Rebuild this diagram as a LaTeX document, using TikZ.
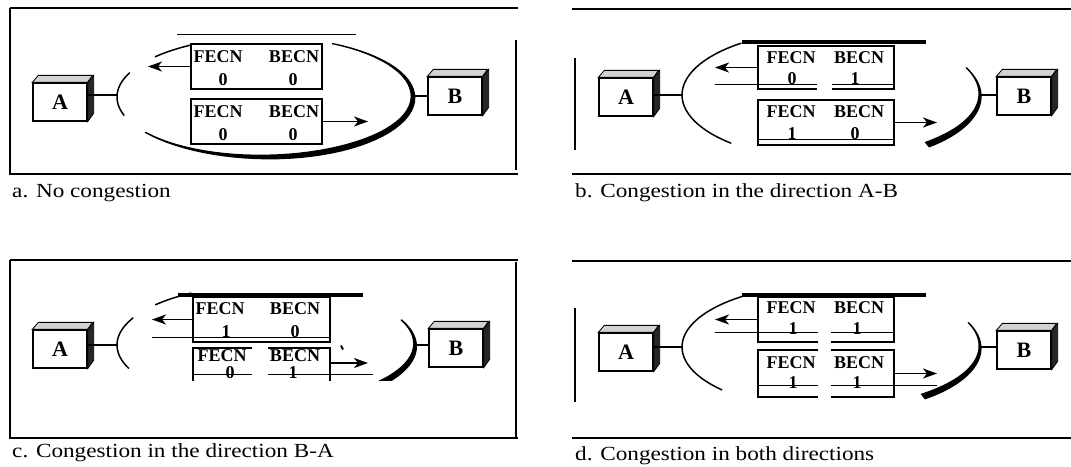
\documentclass[tikz,border=0pt]{standalone}
\usepackage{fontspec}
\setmainfont{Liberation Serif}
\newfontfamily\capfont[FakeStretch=1.16]{Liberation Serif}
\newfontfamily\boxfont{Liberation Serif}
\usetikzlibrary{arrows.meta}

\tikzset{
  rule/.style={line width=1.4pt},
  caption/.style={anchor=base west, inner sep=0pt, font=\capfont\fontsize{20}{24}\selectfont},
  lbl/.style={anchor=base, inner sep=0pt, font=\boxfont\bfseries\fontsize{18}{20}\selectfont},
  fecnbox/.style={draw, line width=1.4pt, fill=white, minimum width=#1, minimum height=45pt, inner sep=0pt},
  areabox/.style={fill=white, draw, line width=1.4pt, minimum width=136pt, minimum height=#1, inner sep=0pt},
  edge/.style={line width=1.4pt},
  digitline/.style={line width=0.9pt},
  arr/.style={line width=1.8pt, -{Stealth[length=14pt,width=10pt,inset=4pt]}},
  thinarc/.style={line width=1.5pt},
  station/.style={draw, line width=1.3pt, fill=white, minimum width=54pt, minimum height=38pt, inner sep=0pt, font=\bfseries\fontsize{22}{24}\selectfont},
  link/.style={line width=1.5pt},
  topbar/.style={line width=4pt},
  cut/.style={fill=white, draw=none},
}

\newcommand\stationcube[3]{%
  \node[station] (#1) at (#2) {#3};
  \filldraw[fill=gray!35, line width=0.8pt] (#1.north west) -- ++(6,-7) -- ++(54,0) -- (#1.north east) -- cycle;
  \filldraw[fill=black!85, line width=0.8pt] (#1.north east) -- ++(6,-7) -- ++(0,38) -- (#1.south east) -- cycle;
}
\newcommand\ellarc[6]{%
  \draw[thinarc] plot[domain=#5:#6, samples=30, variable=\t] ({#1+#3*cos(\t)}, {#2+#4*sin(\t)});}
\newcommand\ellband[9]{%
  \fill plot[domain=#5:#6, samples=50, variable=\t]
    ({#1+(#3+0.7+(#9/2-0.7)*pow(cos(#8*(\t-#7)),2))*cos(\t)},
     {#2+(#4+0.7+(#9/2-0.7)*pow(cos(#8*(\t-#7)),2))*sin(\t)})
   -- plot[domain=#5:#6, samples=50, variable=\t]
    ({#1+(#3-0.7-(#9/2-0.7)*pow(cos(#8*(#5+#6-\t-#7)),2))*cos(#5+#6-\t)},
     {#2+(#4-0.7-(#9/2-0.7)*pow(cos(#8*(#5+#6-\t-#7)),2))*sin(#5+#6-\t)})
   -- cycle;}

\begin{document}
\begin{tikzpicture}[x=1pt,y=-1pt]
\useasboundingbox (0,0) rectangle (1071,466);
\fill[white] (0,0) rectangle (1071,466);

% ================= panel a =================
\draw[rule] (10,8) -- (518,8);
\draw[rule] (10,8) -- (10,174) -- (518,174);
\draw[rule] (516,40) -- (516,170);
\node[caption] (capa) at (12,197) {a. No congestion};
\draw[line width=0.9pt] (177,34) -- (356,34);
\ellarc{265}{97}{148}{60}{162}{204}
\ellarc{265}{97}{148}{60}{222}{242}
\ellband{265}{97}{148}{60}{-63}{144}{45}{0.8}{6.5}
\node[fecnbox=131pt] (a-up) at (256.5,66.5) {};
\node[fecnbox=131pt] (a-lo) at (256.5,121.5) {};
\node[lbl] (a-up-f) at (218,62) {FECN};
\node[lbl] (a-up-b) at (294,62) {BECN};
\node[lbl] (a-up-fv) at (223,85) {0};
\node[lbl] (a-up-bv) at (293,85) {0};
\node[lbl] (a-lo-f) at (218,117) {FECN};
\node[lbl] (a-lo-b) at (294,117) {BECN};
\node[lbl] (a-lo-fv) at (223,140) {0};
\node[lbl] (a-lo-bv) at (293,140) {0};
\coordinate (a-tipL) at (148,66.5);
\coordinate (a-tipR) at (368,121.5);
\draw[arr] (a-up.west) -- (a-tipL);
\draw[arr] (a-lo.east) -- (a-tipR);
\stationcube{a-A}{60,102}{A}
\stationcube{a-B}{455,96}{B}
\coordinate (a-eL) at (117,95);
\coordinate (a-eR) at (413,96);
\draw[link] (a-A.east |- a-eL) -- (a-eL);
\draw[link] (a-eR) -- (a-B.west |- a-eR);

% ================= panel b =================
\draw[rule] (572,9) -- (1071,9);
\draw[rule] (572,174) -- (1071,174);
\draw[rule] (575,58) -- (575,150);
\node[caption] (capb) at (575,197) {b. Congestion in the direction A-B};
\draw[topbar] (742,42) -- (926,42);
\ellarc{831}{95}{149}{65}{132}{233}
\ellband{831}{95}{149}{65}{-25}{50}{50}{1.1}{7}
\node[areabox=43pt] (b-up) at (826,67.5) {};
\draw[digitline] (715,84) -- (894,84);
\node[fecnbox=136pt] (b-lo) at (826,122.5) {};
\draw[digitline] (758,139) -- (894,139);
\node[lbl] (b-up-f) at (791,63) {FECN};
\node[lbl] (b-up-b) at (859,63) {BECN};
\node[lbl] (b-up-fv) at (792,84) {0};
\node[lbl] (b-up-bv) at (855,84) {1};
\node[lbl] (b-lo-f) at (791,117) {FECN};
\node[lbl] (b-lo-b) at (859,117) {BECN};
\node[lbl] (b-lo-fv) at (792,139.5) {1};
\node[lbl] (b-lo-bv) at (855,139.5) {0};
\fill[cut] (817,80) rectangle (832,92);
\coordinate (b-tipL) at (715,67.5);
\coordinate (b-tipR) at (937,122.5);
\draw[arr] (b-up.west) -- (b-tipL);
\draw[arr] (b-lo.east) -- (b-tipR);
\stationcube{b-A}{626,97}{A}
\stationcube{b-B}{1024,96}{B}
\coordinate (b-eL) at (682,95);
\coordinate (b-eR) at (980,95);
\draw[link] (b-A.east |- b-eL) -- (b-eL);
\draw[link] (b-eR) -- (b-B.west |- b-eR);

% ================= panel c =================
\draw[rule] (10,260) -- (518,260);
\draw[rule] (10,260) -- (10,438) -- (518,438);
\draw[rule] (516,262) -- (516,438);
\node[caption] (capc) at (12,457) {c. Congestion in the direction B-A};
\draw[topbar] (178,295) -- (363,295);
\ellarc{266}{345}{149}{60}{157}{207}
\ellarc{266}{345}{149}{60}{222}{240}
\ellband{266}{345}{149}{60}{-25}{42}{40}{1.2}{7}
\node[fecnbox=137pt] (c-up) at (261.5,319.5) {};
\draw[digitline] (152,337) -- (330,337);
\node[areabox=40pt, minimum width=137pt] (c-lo) at (261.5,368) {};
\draw[digitline] (193,374) -- (373,374);
\node[lbl] (c-up-f) at (220,314) {FECN};
\node[lbl] (c-up-b) at (295,314) {BECN};
\node[lbl] (c-up-fv) at (226,337) {1};
\node[lbl] (c-up-bv) at (295,337) {0};
\node[lbl] (c-lo-f) at (222,361) {FECN};
\node[lbl] (c-lo-b) at (295,361) {BECN};
\node[lbl] (c-lo-fv) at (230,378) {0};
\node[lbl] (c-lo-bv) at (293,378) {1};
\fill[cut] (252,346) rectangle (268,383);
\fill[cut] (150,381) rectangle (400,392);
\draw[line width=1.8pt] (341,345.5) -- (343,349.5);
\coordinate (c-tipL) at (152,319.5);
\coordinate (c-tipR) at (368,363);
\draw[arr] (c-lo.east |- c-tipR) -- (c-tipR);
\draw[arr] (c-up.west) -- (c-tipL);
\stationcube{c-A}{60,349}{A}
\stationcube{c-B}{456,348}{B}
\coordinate (c-eL) at (117,345);
\coordinate (c-eR) at (415,345);
\draw[link] (c-A.east |- c-eL) -- (c-eL);
\draw[link] (c-eR) -- (c-B.west |- c-eR);

% ================= panel d =================
\draw[rule] (572,261) -- (1071,261);
\draw[rule] (572,438) -- (1071,438);
\draw[rule] (575,308) -- (575,402);
\node[caption] (capd) at (575,460) {d. Congestion in both directions};
\ellarc{831}{347}{149}{63}{137}{237}
\ellband{831}{347}{149}{63}{-23}{52}{52}{1.1}{7}
\node[areabox=45pt] (d-up) at (826,319.5) {};
\draw[digitline] (715,332) -- (894,332);
\node[areabox=47pt] (d-lo) at (826,373.5) {};
\draw[digitline] (758,385) -- (937,385);
\node[lbl] (d-up-f) at (791,313) {FECN};
\node[lbl] (d-up-b) at (859,313) {BECN};
\node[lbl] (d-up-fv) at (793,334) {1};
\node[lbl] (d-up-bv) at (857,334) {1};
\node[lbl] (d-lo-f) at (791,368) {FECN};
\node[lbl] (d-lo-b) at (859,368) {BECN};
\node[lbl] (d-lo-fv) at (793,388) {1};
\node[lbl] (d-lo-bv) at (857,388) {1};
\fill[cut] (818,298) rectangle (831,399);
\draw[topbar] (742,295) -- (926,295);
\coordinate (d-tipL) at (715,319.5);
\coordinate (d-tipR) at (937,373.5);
\draw[arr] (d-up.west) -- (d-tipL);
\draw[arr] (d-lo.east) -- (d-tipR);
\stationcube{d-A}{626,352}{A}
\stationcube{d-B}{1024,350}{B}
\coordinate (d-eL) at (682,347);
\coordinate (d-eR) at (980,347);
\draw[link] (d-A.east |- d-eL) -- (d-eL);
\draw[link] (d-eR) -- (d-B.west |- d-eR);
\end{tikzpicture}
\end{document}
